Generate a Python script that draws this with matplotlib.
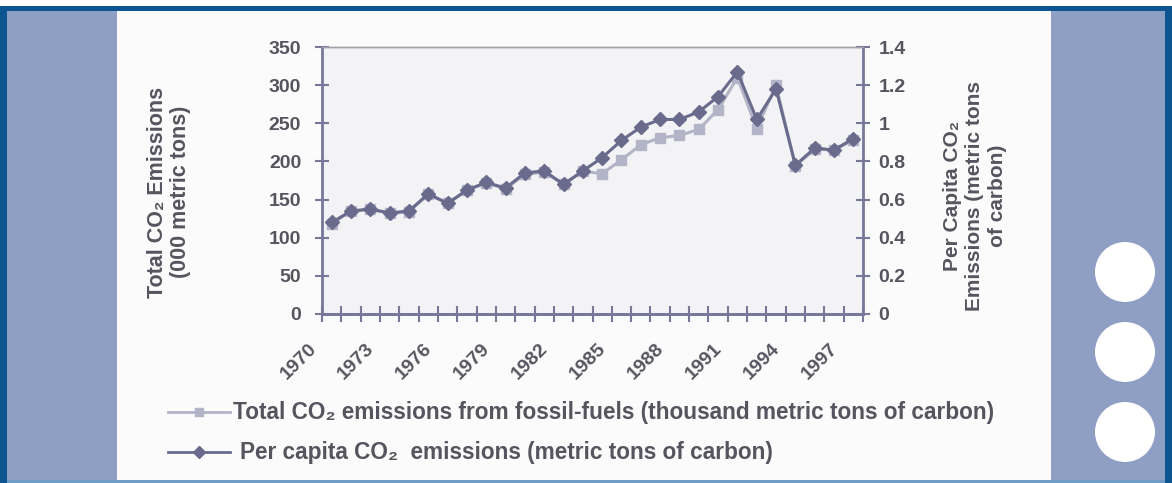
import matplotlib
matplotlib.use('Agg')
import matplotlib.pyplot as plt
from matplotlib.patches import Rectangle, Circle
from matplotlib.lines import Line2D
from matplotlib.ticker import FixedLocator, FuncFormatter
import matplotlib.transforms as mtransforms

# ---------------- data ----------------
years = list(range(1970, 1998))
total_co2 = [118, 135, 137, 132, 134, 157, 145, 162, 172, 164, 183, 186, 170, 187,
             184, 202, 222, 231, 234, 242, 268, 310, 243, 300, 194, 216, 215, 228]
per_capita = [0.48, 0.54, 0.55, 0.53, 0.54, 0.63, 0.58, 0.65, 0.69, 0.66, 0.74, 0.75, 0.68, 0.75,
              0.82, 0.91, 0.98, 1.02, 1.02, 1.06, 1.14, 1.27, 1.02, 1.18, 0.78, 0.87, 0.86, 0.92]
label_years = years[::3]
left_ticks = [0, 50, 100, 150, 200, 250, 300, 350]
right_ticks = [0, 0.2, 0.4, 0.6, 0.8, 1.0, 1.2, 1.4]
left_title = "Total CO\u2082 Emissions\n(000 metric tons)"
right_title = "Per Capita CO\u2082\nEmissions (metric tons\nof carbon)"
legend_labels = ["Total CO\u2082 emissions from fossil-fuels (thousand metric tons of carbon)",
                 "Per capita CO\u2082  emissions (metric tons of carbon)"]

# ---------------- style ----------------
plt.rcParams['font.family'] = ['Liberation Sans', 'DejaVu Sans']
W, H = 1172, 483
TXT = '#55555f'
AXC = '#77779a'
DARK = '#6a6a8c'
LIGHT = '#b4b4c8'
PANEL = '#8f9ec3'
BLUE = '#0d5591'

fig = plt.figure(figsize=(W / 100, H / 100), dpi=100)
fig.patch.set_facecolor('white')


def frect(x0, y0, x1, y1, color, z=-10):
    fig.patches.append(Rectangle((x0 / W, 1 - y1 / H), (x1 - x0) / W, (y1 - y0) / H,
                                 transform=fig.transFigure, facecolor=color,
                                 edgecolor='none', zorder=z))


frect(0, 6, W, H, BLUE)
frect(7, 11, 117, 480, PANEL)
frect(117, 11, 1051, 480, '#fbfbfb')
frect(1051, 11, 1165, 480, PANEL)
frect(7, 480, 1165, 483, '#6f9cc6')
for cy in (272, 352, 432):
    fig.patches.append(Circle((1125 / 100, (H - cy) / 100), 0.30,
                              transform=fig.dpi_scale_trans, facecolor='white',
                              edgecolor='none', zorder=-5))

# ---------------- axes ----------------
ax = fig.add_axes([322 / W, 1 - 314 / H, 541 / W, 267 / H])
ax.set_facecolor('#f3f3f5')
ax2 = ax.twinx()

x = list(range(len(years)))
ax.plot(x, total_co2, color=LIGHT, lw=2.2, marker='s', ms=7.5, mec=LIGHT, mfc=LIGHT, zorder=3)
ax2.plot(x, per_capita, color=DARK, lw=2.2, marker='D', ms=7.5, mec=DARK, mfc=DARK, zorder=3)

ax.set_xlim(-0.5, len(years) - 0.5)
ax.set_ylim(0, 350)
ax2.set_ylim(0, 1.4)

for a in (ax, ax2):
    for s in ('left', 'right', 'bottom'):
        a.spines[s].set_color(AXC)
        a.spines[s].set_linewidth(2)
    a.spines['top'].set_color('#a0a0a8')
    a.spines['top'].set_linewidth(1)
ax.spines['right'].set_visible(False)
ax2.spines['left'].set_visible(False)

ax.yaxis.set_major_locator(FixedLocator(left_ticks))
ax.yaxis.set_major_formatter(FuncFormatter(lambda v, p: f"{v:g}"))
ax2.yaxis.set_major_locator(FixedLocator(right_ticks))
ax2.yaxis.set_major_formatter(FuncFormatter(lambda v, p: f"{v:g}"))

ax.tick_params(axis='y', direction='inout', length=10, width=1.5, color=AXC,
               labelsize=14, labelcolor=TXT, pad=10)
ax2.tick_params(axis='y', direction='inout', length=10, width=1.5, color=AXC,
                labelsize=14, labelcolor=TXT, pad=6)
for lab in ax.get_yticklabels() + ax2.get_yticklabels():
    lab.set_fontweight('bold')

# x: tick marks at category boundaries, labels every 3 years
ax.xaxis.set_major_locator(FixedLocator([i - 0.5 for i in range(len(years) + 1)]))
ax.xaxis.set_major_formatter(FuncFormatter(lambda v, p: ""))
ax.tick_params(axis='x', direction='inout', length=11, width=1.5, color=AXC)

trans = mtransforms.blended_transform_factory(ax.transData, ax.transAxes)
off = mtransforms.ScaledTranslation(-24 / 100, 0, fig.dpi_scale_trans)
for yr in label_years:
    i = years.index(yr)
    ax.text(i, -0.097, str(yr), transform=trans + off, rotation=45, ha='right', va='top',
            rotation_mode='anchor', fontsize=14, fontweight='bold', color=TXT, clip_on=False)

# ---------------- axis titles ----------------
fig.text(169 / W, 1 - 192 / H, left_title, rotation=90, ha='center', va='center',
         fontsize=15.5, fontweight='bold', color=TXT, multialignment='center', linespacing=1.15)
fig.text(975 / W, 1 - 196 / H, right_title, rotation=90, ha='center', va='center',
         fontsize=15, fontweight='bold', color=TXT, multialignment='center', linespacing=1.25)

# ---------------- legend ----------------
for row, (lab, col, mk) in enumerate(zip(legend_labels, [LIGHT, DARK], ['s', 'D'])):
    yy = 1 - (412 + 40 * row) / H
    fig.add_artist(Line2D([168 / W, 230 / W], [yy, yy], transform=fig.transFigure,
                          color=col, lw=2))
    fig.add_artist(Line2D([199 / W], [yy], transform=fig.transFigure, color=col,
                          marker=mk, ms=6, mec=col, mfc=col, lw=0))
    fig.text((233 if row == 0 else 240) / W, yy, lab, ha='left', va='center',
             fontsize=16.3, fontweight='bold', color=TXT)

fig.savefig('out.png', dpi=100, facecolor=fig.get_facecolor())
